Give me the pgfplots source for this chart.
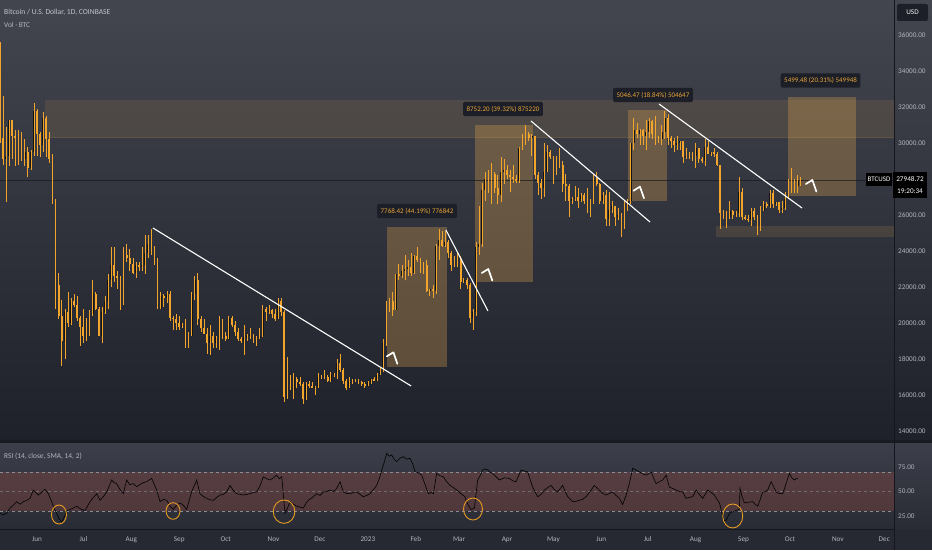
\documentclass[border=0pt]{standalone}
\usepackage{pgfplots}
\usepackage{pgfplotstable}
\pgfplotsset{compat=1.18}
\usepackage{fontspec}
\setmainfont{Carlito}
\definecolor{bgtop}{HTML}{43464F}
\definecolor{bgbot}{HTML}{1E2129}
\definecolor{rsitop}{HTML}{3C3F49}
\definecolor{rsibot}{HTML}{292C35}
\definecolor{xbg}{HTML}{262932}
\definecolor{sepc}{HTML}{191B21}
\definecolor{linec}{HTML}{14161B}
\definecolor{axtext}{HTML}{B2B5BE}
\definecolor{candle}{HTML}{F2A52A}
\definecolor{upbody}{HTML}{141414}
\definecolor{boxc}{HTML}{D7A050}
\definecolor{lblbg}{HTML}{1C1F27}
\definecolor{lbltext}{HTML}{E8A33A}
\definecolor{rsiband}{HTML}{BE5040}
\definecolor{dashc}{HTML}{8A8D98}
\definecolor{circc}{HTML}{E89C22}
\definecolor{curline}{HTML}{17181C}

\pgfplotstableread{
d o h l c
-20 29100 30900 26700 29300
-18 29300 31300 28700 31300
-8 29100 30200 28700 29500
-4 28600 29600 28500 29500
-2 29500 32200 29300 31800
4 29900 31700 29500 31400
18 19000 20800 18000 20600
22 20000 21400 19900 21200
32 19300 20300 19000 20200
34 20200 20700 19300 20500
36 20500 22400 20400 21600
42 19300 20900 18900 20600
44 20600 21500 20500 21200
46 21200 22700 20800 22400
48 22400 24200 22000 23200
56 21300 24200 21000 23800
64 22800 23400 22500 23200
68 23100 24200 22900 23200
70 23200 24900 22700 23900
72 23900 24900 23600 24400
80 20800 21700 20800 21500
84 21400 21800 21100 21600
94 19800 20000 19700 20000
98 18800 19500 18600 19300
100 19300 21700 19300 21600
102 21600 22600 21300 22400
112 18900 19900 18200 19300
116 18900 19300 18600 19200
118 19200 20400 18500 19400
124 19100 20400 19100 20300
134 19000 19900 18200 19200
136 19200 19400 19000 19300
138 19300 19700 19100 19400
142 19000 19300 18700 19200
144 19200 19700 19100 19300
146 19300 21000 19200 20800
150 20600 21000 20500 20700
156 20200 21400 20200 21200
162 15900 18100 15800 17100
166 16300 17200 15800 16900
174 15800 16700 15700 16600
180 16400 16500 16000 16500
182 16500 17200 16400 17000
186 16900 17400 16900 17000
190 16800 17300 16700 17100
192 17100 17200 17000 17200
194 17200 18000 16900 17800
202 16400 17000 16400 16800
204 16800 16900 16600 16900
214 16500 16800 16500 16700
216 16700 16900 16600 16900
220 16800 17200 16800 17100
222 17100 17500 17100 17400
224 17400 19100 17300 18900
226 18900 21200 18700 20900
228 20900 21400 20600 21200
232 20700 22700 20700 22700
236 22600 23200 22500 22900
238 22900 23800 22400 23000
240 23000 23500 22600 23100
244 22800 23800 22700 23700
250 22900 23400 22700 23200
254 21800 21900 21500 21900
258 21800 24400 21600 24300
260 24300 25200 23500 24600
264 24300 25100 24200 24500
270 23200 23700 23100 23500
272 23500 23900 23100 23600
276 22300 22500 22200 22400
282 20300 20800 19600 20600
284 20600 24500 20400 24200
286 24200 26500 23800 24400
288 24400 27800 24200 27400
290 27400 28400 26800 28000
292 28000 28500 27200 28200
294 28200 28900 26600 28300
300 27100 29200 26700 28400
302 28400 29100 27700 28500
312 27900 29800 27800 29700
314 29700 30500 29600 30000
316 30000 31000 29900 30500
320 30300 30500 29300 30400
328 27500 30000 27000 28400
330 28400 29900 28400 29500
336 28700 29300 28200 28900
346 26800 27000 26600 26900
348 26900 27600 26800 27000
352 26800 27200 26700 27100
358 26300 26900 25900 26700
360 26700 28200 26600 28100
366 26800 27300 26600 27100
370 25800 27300 25400 26300
372 26300 26800 26100 26500
376 25900 26400 25700 26000
380 25600 26800 25200 26500
382 26500 26900 26200 26800
384 26800 30000 26600 30000
386 30000 31400 29600 30700
390 30500 30800 29900 30700
394 30400 31300 29600 30600
396 30600 31400 30300 31200
404 30200 31000 29900 30600
406 30600 31800 30200 31400
414 29900 30400 29600 30000
416 30000 30100 29600 30100
420 29200 29700 29100 29300
424 29200 29500 29000 29300
426 29300 30000 28600 29700
432 29000 30200 28700 29800
436 29400 29500 29300 29500
444 26100 26300 25800 26200
448 25900 26800 25800 26200
452 26000 26200 25900 26100
454 26100 28100 25900 27300
462 25700 26400 25400 26200
468 25100 26500 25100 26200
470 26200 26800 26200 26600
474 26500 27400 26400 27200
478 26600 26700 26500 26700
482 26300 26800 26100 26400
484 26400 27300 26300 26900
486 26900 28000 26900 28000
490 27400 28000 27200 27600
492 27600 28200 27200 27900
494 27900 28100 27600 27950
}\upc

\pgfplotstableread{
d o h l c
-24 35500 35600 30000 30300
-22 30300 32600 28800 29100
-16 31300 31300 29100 30400
-14 30400 30700 28700 30300
-12 30300 30700 28800 29400
-10 29400 30600 29000 29100
-6 29500 29800 28100 28600
0 31800 31900 29300 30500
2 30500 30600 29200 29900
6 31400 31500 29200 30200
8 30200 30600 28900 29100
10 29100 29400 26600 26600
12 26600 26900 20800 22100
14 22100 22800 20200 20400
16 20400 21300 17600 19000
20 20600 21700 19800 20000
24 21200 21600 20900 21000
26 21000 21500 20100 20300
28 20300 20400 18700 19800
30 19800 20800 18900 19300
38 21600 21700 20700 20800
40 20800 20900 19300 19300
50 23200 24200 22300 22600
52 22600 22900 21900 22500
54 22500 22600 20700 21300
58 23800 24400 23400 23600
60 23600 24100 22900 23300
62 23300 23600 22700 22800
66 23200 23400 22900 23100
74 24400 25200 23800 24100
76 24100 24300 23200 23300
78 23300 23600 20800 20800
82 21500 21600 20900 21400
86 21600 21800 20100 20300
88 20300 20400 19600 20200
90 20200 20500 19600 20000
92 20000 20400 19600 19800
96 20000 20200 18600 18800
104 22400 22800 19900 20200
106 20200 20400 19500 19700
108 19700 20200 19400 19400
110 19400 19700 18300 18900
114 19300 19500 18600 18900
120 19400 20200 19100 19300
122 19300 19500 19000 19100
126 20300 20400 19800 19900
128 19900 20100 19300 19500
130 19500 19700 19000 19100
132 19100 19200 18900 19000
140 19400 19400 18900 19000
148 20800 20900 20100 20600
152 20700 20800 20300 20500
154 20500 20800 20100 20200
158 21200 21400 20400 20600
160 20600 20700 15600 15900
164 17100 17100 16300 16300
168 16900 17000 16400 16700
170 16700 17000 16500 16600
172 16600 16700 15500 15800
176 16600 16800 16400 16500
178 16500 16700 16400 16400
184 17000 17100 16900 16900
188 17000 17100 16700 16800
196 17800 18300 17300 17400
198 17400 17500 16600 16800
200 16800 16900 16300 16400
206 16900 16900 16700 16800
208 16800 16900 16600 16700
210 16700 16800 16500 16600
212 16600 16700 16400 16500
218 16900 17000 16800 16800
230 21200 21700 20400 20700
234 22700 23300 22400 22600
242 23100 23900 22600 22800
246 23700 24200 23400 23500
248 23500 23600 22800 22900
252 23200 23500 21700 21800
256 21900 22100 21400 21800
262 24600 25100 24200 24300
266 24500 24600 23600 23900
268 23900 24000 22900 23200
274 23600 23700 21900 22300
278 22400 22500 21900 22100
280 22100 22200 20000 20300
296 28300 28400 27200 27500
298 27500 28200 26600 27100
304 28500 28800 28000 28200
306 28200 28500 27300 28100
308 28100 28800 27800 28000
310 28000 28200 27800 27900
318 30500 30600 30100 30300
322 30400 30400 28000 28200
324 28200 28400 27100 27800
326 27800 28000 26900 27500
332 29500 29600 29100 29200
334 29200 29300 27700 28700
338 28900 29700 28600 28800
340 28800 29000 27300 27700
342 27700 28300 26800 27600
344 27600 27700 25900 26800
350 27000 27500 26400 26800
354 27100 27200 26600 26800
356 26800 27500 26100 26300
362 28100 28400 27600 27700
364 27700 27800 26600 26800
368 27100 27400 25400 25800
374 26500 26500 25400 25900
378 26000 26100 24800 25600
388 30700 31100 30300 30500
392 30700 30800 29900 30400
398 31200 31300 30200 30500
400 30500 31500 29900 30300
402 30300 30400 30000 30200
408 31400 31600 29900 30300
410 30300 30400 29700 30100
412 30100 30300 29500 29900
418 30100 30100 28900 29200
422 29300 29500 29100 29200
428 29700 29700 28900 29100
430 29100 29200 28900 29000
434 29800 30100 29400 29400
438 29500 29700 29200 29400
440 29400 29500 28700 28800
442 28800 28800 25200 26100
446 26200 26200 25300 25900
450 26200 26300 25800 26000
456 27300 27500 25700 25900
458 25900 26000 25700 25800
460 25800 26000 25600 25700
464 26200 26400 25700 25900
466 25900 26000 24900 25100
472 26600 26700 26400 26500
476 27200 27400 26400 26600
480 26700 26700 26100 26300
488 28000 28600 27200 27400
}\downc

\pgfplotstableread{
d r
-23.9 27.8
-21.7 26
-19.6 28
-17.5 32.9
-15.3 36
-13.1 39.6
-11 37
-8.8 39.6
-6.6 41
-4.5 43
-2.4 51.5
0.9 46.4
3 49
5.2 52.2
7.3 48
9.5 39.6
11 33
12.7 27.8
14.3 22
16.0 18.6
17.6 24
19.2 30
21.3 31.7
23.5 33
25.7 35
28.4 32
31.1 30.5
34.3 39.6
36.5 44
38.6 47.7
40.8 41
43 45
45.1 49.5
48.3 61.7
50 59
51.5 58
53.7 52
55.8 47.7
58.0 61.7
60 57
62.3 58
64.5 55
66.6 57
68.7 59
70.9 60
74.2 63.4
77.4 51.5
79.6 39.6
81.7 42
83.9 41
86 35
88.2 31.7
90.3 36
92.5 38.4
94.6 36
96.8 31.7
100 49.5
103.3 61.7
105.4 47.7
107.5 45
109.7 43
111.9 41.5
114.1 41
116.3 44
118.4 46.4
120.5 47
122.7 49.5
124.8 56.2
127 51
129.2 47.7
131.3 47
133.5 46.4
135.6 47
137.8 47.7
140 49
142.1 49.5
144.3 56
146.4 65
148.6 63
150.7 61.7
152.9 64
155.0 66.7
156.7 63
158.3 65
160.4 27.8
162 33
163.7 39.6
165.9 37
168.0 35
170.1 34
172.3 33
174 38
175.5 41
178.2 44
180.9 47.7
183 46
185.2 49.5
187.4 50
189.5 51.5
191.7 50
193.8 53.2
196.0 60
198.1 49.5
200.3 48
202.5 47.7
204.6 49
206.8 49.5
209 47
211.1 44.7
213.3 46
215.4 47.7
217.6 52
219.7 56.2
221.4 63
223.0 72
224.6 80
226.2 89
227.8 86
229.4 87.3
231 83
232.6 80.5
234.8 84
237.0 85.5
239.2 83
241.3 83.9
243 78
244.5 70.2
246.7 69
248.8 66.7
251 57
253.1 47.7
254.8 49
256.4 47.7
258.5 68.4
260.6 66
262.8 65
265 60
267.1 56.2
269.3 54
271.5 51.5
274 48
276.8 44.7
277.5 41
279 36
280.7 31.7
282.9 33
285 61.7
286.6 66
288.3 72
290 73
291.5 72
293 70
294.7 68.4
297 65
299.1 61.7
302.3 64
305.5 63.4
307.6 61
309.8 60
313.1 72
315 71
317.4 70
319 62
320.6 54.5
322.3 49
323.9 44.7
326 47
328.2 51.5
330.3 54
332.5 56.2
334.6 52
336.8 49.5
338.4 53
340.0 56.2
341.6 50
343.3 44.7
344.9 42
346.5 39.6
348.6 40
350.8 41
353 42
355.1 44.7
357.8 50
360.5 56.2
362 54
363.7 51.5
366 48
368.1 46.4
370.2 48
372.4 49.5
374.5 46
376.7 43
378.8 36.7
381 46
383.1 58
385.3 73.7
387.4 72
389.6 70
391.7 68
393.9 66.7
395.5 68
397.2 70
398.8 64
400.4 58
402.5 60
404.7 61.7
406.9 66.7
409.0 54.5
411.2 53
413.3 51.5
415.5 50
417.6 49.5
419.8 43
422 44
424.1 44.7
426.3 51.5
428.4 47
430.6 43
433.8 51.5
436 49
438.1 46.4
439.8 42
441.4 38.4
443 28
444.6 19.2
446.2 22
447.8 27.8
449.5 29
451.1 30
452.7 31
454.3 31.7
454.7 53.2
456 45
457.5 38.4
460 39
462.9 39.6
464.5 37
466.2 35
467.8 42
469.4 49.5
471 50
472.6 51.5
474.8 60
476.4 55
478.0 49.5
480 48
482.3 47.7
484.5 58
486.6 68.4
488.2 64
489.9 61.7
491 63
492.0 63.4
}\rsi

\pgfplotsset{
  chartax/.style={scale only axis, width=894pt, xmin=-23.93, xmax=554.3,
    axis line style={draw=none}, major tick length=0pt, tick style={draw=none},
    ticklabel style={font=\fontsize{7.2}{8}\selectfont, text=axtext},
    yticklabel pos=right,
    yticklabel style={anchor=west, inner sep=0pt, xshift=4pt},
    /pgf/number format/fixed, /pgf/number format/fixed zerofill,
    /pgf/number format/precision=2, /pgf/number format/1000 sep={},
    /pgf/number format/assume math mode=true,
    scaled y ticks=false},
  wick/.style={draw=none, mark=none, error bars/.cd, y dir=both, y explicit, error mark=none,
    error bar style={draw=candle, line width=0.6pt}},
  body/.style={draw=none, mark=none, error bars/.cd, y dir=both, y explicit, error mark=none,
    error bar style={draw=#1, line width=1.8pt}},
  mbox/.style={fill=boxc, fill opacity=0.33, draw=none},
}
\tikzset{
  lbl/.style={fill=lblbg, text=lbltext, rounded corners=1.2pt, inner xsep=3.5pt, inner ysep=4pt,
    font=\fontsize{7}{8}\selectfont},
}
\newcommand{\chev}[2]{\draw[white, line width=1.7pt, line join=round, line cap=round]
  ([shift={(-6.5pt,-4pt)}]axis cs:#1,#2) -- (axis cs:#1,#2)
  -- ([shift={(4pt,-11.5pt)}]axis cs:#1,#2);}

\begin{document}
\begin{tikzpicture}
\useasboundingbox (0pt,0pt) rectangle (932pt,550pt);
\shade[top color=bgtop, bottom color=bgbot] (0pt,110pt) rectangle (932pt,550pt);
\fill[sepc] (0pt,107pt) rectangle (932pt,110pt);
\shade[top color=rsitop, bottom color=rsibot] (0pt,21pt) rectangle (932pt,107pt);
\fill[xbg] (0pt,0pt) rectangle (932pt,21pt);

\begin{axis}[chartax, at={(0pt,110pt)}, anchor=south west, height=440pt,
  ymin=13500, ymax=37944, xtick=\empty,
  ytick={14000,16000,18000,20000,22000,24000,26000,30000,32000,34000,36000}, clip=true]
  % zones
  \addplot[fill=boxc, fill opacity=0.13, draw=none] coordinates {(5.2,32389)(554.3,32389)(554.3,30333)(5.2,30333)} -- cycle;
  \addplot[boxc, opacity=0.25, line width=0.6pt] coordinates {(5.2,30333)(554.3,30333)};
  \addplot[fill=boxc, fill opacity=0.15, draw=none] coordinates {(439,25389)(554.3,25389)(554.3,24778)(439,24778)} -- cycle;
  % measurement boxes
  \addplot[mbox] coordinates {(226.4,17579)(265.2,17579)(265.2,25347)(226.4,25347)} -- cycle;
  \addplot[mbox] coordinates {(283.1,22260)(320.6,22260)(320.6,31012)(283.1,31012)} -- cycle;
  \addplot[mbox] coordinates {(382.1,26786)(407.3,26786)(407.3,31832)(382.1,31832)} -- cycle;
  \addplot[mbox] coordinates {(485.8,27078)(529.8,27078)(529.8,32577)(485.8,32577)} -- cycle;
  % current price line
  \addplot[curline, opacity=0.7, line width=0.6pt] coordinates {(-23.93,27948.72)(554.3,27948.72)};
  % candles
  \addplot[body=upbody] table[x=d, y expr={(\thisrow{o}+\thisrow{c})/2}, y error expr={(\thisrow{c}-\thisrow{o})/2}] {\upc};
  \addplot[wick] table[x=d, y expr={(\thisrow{h}+\thisrow{l})/2}, y error expr={(\thisrow{h}-\thisrow{l})/2}] {\upc};
  \addplot[wick] table[x=d, y expr={(\thisrow{h}+\thisrow{l})/2}, y error expr={(\thisrow{h}-\thisrow{l})/2}] {\downc};
  \addplot[body=candle] table[x=d, y expr={(\thisrow{o}+\thisrow{c})/2}, y error expr={(\thisrow{o}-\thisrow{c})/2}] {\downc};
  % trend lines
  \addplot[white, line width=1.1pt] coordinates {(75,25278)(242,16500)};
  \addplot[white, line width=1.1pt] coordinates {(264.5,25167)(291.7,20667)};
  \addplot[white, line width=1.1pt] coordinates {(319.5,31222)(396.5,25611)};
  \addplot[white, line width=1.1pt] coordinates {(402.3,32167)(494.8,26389)};
  % chevrons
  \chev{230.5}{18372}
  \chev{291.9}{23000}
  \chev{390.0}{27572}
  \chev{501.5}{27944}
  % labels
  \node[lbl] at (axis cs:245.8,26222) {7768.42 (44.19\%) 776842};
  \node[lbl] at (axis cs:301.4,31889) {8752.20 (39.32\%) 875220};
  \node[lbl] at (axis cs:398.4,32667) {5046.47 (18.84\%) 504647};
  \node[lbl] at (axis cs:506.8,33472) {5499.48 (20.31\%) 549948};
\end{axis}

\begin{axis}[chartax, at={(0pt,21pt)}, anchor=south west, height=86pt,
  ymin=11.7, ymax=99.5, ytick={25,50,75}, clip=false,
  xtick={0,30,61,92,122,153,183,214,245,273,304,334,365,395,426,457,487,518,548},
  xticklabels={Jun,Jul,Aug,Sep,Oct,Nov,Dec,2023,Feb,Mar,Apr,May,Jun,Jul,Aug,Sep,Oct,Nov,Dec},
  xticklabel style={anchor=north, yshift=-4pt}]
  \addplot[fill=rsiband, fill opacity=0.24, draw=none] coordinates {(-23.93,30)(554.3,30)(554.3,70)(-23.93,70)} -- cycle;
  \addplot[dashc, dashed, line width=0.5pt] coordinates {(-23.93,70)(554.3,70)};
  \addplot[dashc, dashed, line width=0.5pt, opacity=0.6] coordinates {(-23.93,50)(554.3,50)};
  \addplot[dashc, dashed, line width=0.5pt] coordinates {(-23.93,30)(554.3,30)};
  \addplot[black, line width=0.6pt] table[x=d, y=r] {\rsi};
  \draw[circc, line width=0.9pt] (axis cs:14.2,26.5) ellipse [x radius=7.5pt, y radius=9.5pt];
  \draw[circc, line width=0.9pt] (axis cs:88,30.1) ellipse [x radius=7pt, y radius=8.3pt];
  \draw[circc, line width=0.9pt] (axis cs:159.8,29.4) ellipse [x radius=10.8pt, y radius=11.7pt];
  \draw[circc, line width=0.9pt] (axis cs:282,32.1) ellipse [x radius=9.5pt, y radius=11pt];
  \draw[circc, line width=0.9pt] (axis cs:450,25) ellipse [x radius=10pt, y radius=12pt];
\end{axis}

% separators
\draw[linec, line width=0.8pt] (894pt,0pt) -- (894pt,550pt);
\draw[linec, line width=0.8pt] (0pt,21pt) -- (894pt,21pt);

% header texts
\node[anchor=west, text=axtext!80!white, font=\fontsize{7.6}{9}\selectfont, inner sep=0pt] at (4pt,537.5pt) {Bitcoin / U.S. Dollar, 1D, COINBASE};
\node[anchor=west, text=axtext, font=\fontsize{7.4}{9}\selectfont, inner sep=0pt] at (4pt,525pt) {Vol · BTC};
\node[anchor=west, text=axtext, font=\fontsize{7.4}{9}\selectfont, inner sep=0pt] at (4pt,94pt) {RSI (14, close, SMA, 14, 2)};

% USD box
\fill[lblbg, rounded corners=2pt] (897pt,529pt) rectangle (928pt,546pt);
\node[text=white!85!axtext, font=\fontsize{7.2}{8}\selectfont, inner sep=0pt] at (912.5pt,537.5pt) {USD};

% price labels
\fill[black] (866pt,364pt) rectangle (892pt,377pt);
\node[text=white, font=\fontsize{7}{8}\selectfont, inner sep=0pt] at (879pt,370.5pt) {BTCUSD};
\fill[black] (893pt,352pt) rectangle (927pt,378pt);
\node[text=white, font=\fontsize{7.2}{8}\selectfont, inner sep=0pt] at (910pt,370.5pt) {27948.72};
\node[text=white, font=\fontsize{7.2}{8}\selectfont, inner sep=0pt] at (910pt,358.5pt) {19:20:34};
\end{tikzpicture}
\end{document}
